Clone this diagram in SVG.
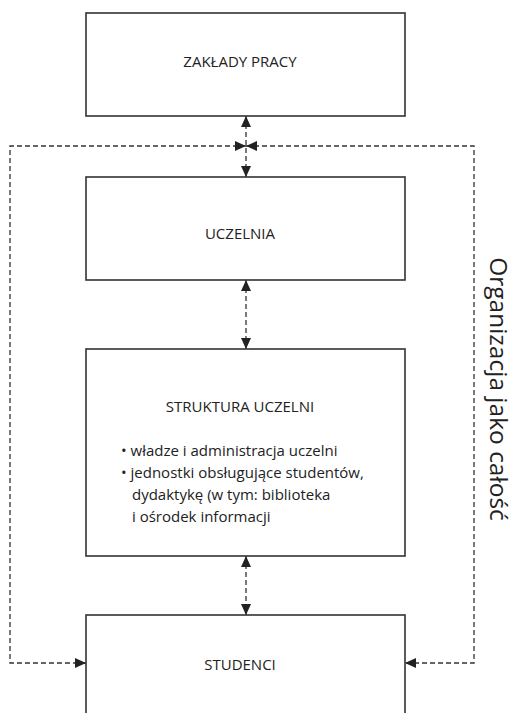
<svg xmlns="http://www.w3.org/2000/svg" width="518" height="713" viewBox="0 0 518 713">
<style>
.box{fill:#fff;stroke:#333;stroke-width:1.6}
.lbl{font-family:"Open Sans","Noto Sans","Liberation Sans",sans-serif;font-size:15px;fill:#222}
.mid{text-anchor:middle}
.conn{fill:none;stroke:#333;stroke-width:1.3;stroke-dasharray:5,3;marker-start:url(#ah);marker-end:url(#ah)}
.side{font-family:"Open Sans","Noto Sans","Liberation Sans",sans-serif;font-size:24.5px;fill:#222;text-anchor:middle}
</style>
<defs>
<marker id="ah" markerUnits="userSpaceOnUse" markerWidth="11" markerHeight="10" refX="11" refY="5" orient="auto-start-reverse" viewBox="0 0 11 10">
<path d="M0,0 L11,5 L0,10 Z" fill="#222"/>
</marker>
</defs>
<rect width="518" height="713" fill="#fff"/>
<g id="connectors">
<path class="conn" d="M246,116 V177"/>
<path class="conn" d="M246,146 H10 V663 H86"/>
<path class="conn" d="M246,146 H474 V663 H405"/>
<path class="conn" d="M246,280 V349"/>
<path class="conn" d="M246,556 V615"/>
</g>
<g id="zaklady">
<rect class="box" x="86" y="13" width="319" height="103"/>
<text class="lbl mid" x="240" y="67">ZAKŁADY PRACY</text>
</g>
<g id="uczelnia">
<rect class="box" x="86" y="177" width="319" height="103"/>
<text class="lbl mid" x="240" y="239">UCZELNIA</text>
</g>
<g id="struktura">
<rect class="box" x="86" y="349" width="319" height="207"/>
<text class="lbl mid" x="240" y="412">STRUKTURA UCZELNI</text>
<text class="lbl" x="121" y="456">• władze i administracja uczelni</text>
<text class="lbl" x="121" y="478">• jednostki obsługujące studentów,</text>
<text class="lbl" x="132" y="500">dydaktykę (w tym: biblioteka</text>
<text class="lbl" x="132" y="522">i ośrodek informacji</text>
</g>
<g id="studenci">
<rect class="box" x="86" y="615" width="319" height="120"/>
<text class="lbl mid" x="240" y="670">STUDENCI</text>
</g>
<g id="organizacja">
<text class="side" transform="translate(490,389) rotate(90)">Organizacja jako całość</text>
</g>
</svg>
